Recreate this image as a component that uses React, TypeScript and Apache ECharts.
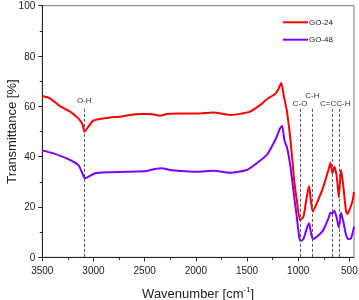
import React, { useEffect, useRef } from "react";
import * as echarts from "echarts";

const go24Wn = [3500, 3425, 3327, 3229, 3148, 3105, 3088, 3050, 3002, 2936, 2839, 2741, 2643, 2545, 2448, 2350, 2284, 2155, 1991, 1829, 1731, 1666, 1568, 1471, 1373, 1307, 1226, 1194, 1165, 1140, 1112, 1079, 1053, 1040, 1014, 982, 949, 916, 894, 877, 858, 818, 754, 705, 685, 666, 647, 623, 603, 591, 581, 559, 532, 519, 493, 467, 455];
const go24T = [64.1, 63.2, 60.1, 57.9, 55.2, 52.6, 49.9, 51.9, 54.3, 55.0, 55.6, 55.9, 56.6, 57.0, 57.0, 56.3, 57.0, 57.2, 57.2, 57.6, 57.0, 56.6, 57.0, 57.9, 60.5, 62.8, 64.9, 66.8, 69.3, 64.0, 58.5, 47.9, 36.7, 30.7, 22.8, 14.8, 16.1, 24.1, 28.3, 22.8, 18.1, 21.5, 28.1, 34.7, 37.6, 33.4, 36.0, 32.0, 23.8, 30.7, 34.7, 28.1, 18.1, 17.2, 19.5, 22.8, 26.0];

const go48Wn = [3500, 3392, 3262, 3148, 3115, 3085, 3050, 2985, 2871, 2675, 2480, 2399, 2333, 2252, 2155, 1991, 1829, 1666, 1503, 1405, 1307, 1258, 1210, 1177, 1157, 1135, 1112, 1086, 1063, 1040, 1014, 989, 975, 949, 916, 894, 877, 858, 818, 754, 705, 685, 666, 647, 623, 603, 581, 559, 532, 510, 484, 461, 455];
const go48T = [42.5, 41.3, 39.3, 36.7, 34.0, 31.4, 32.0, 33.4, 33.8, 34.0, 34.3, 35.1, 35.4, 34.7, 34.3, 34.0, 34.4, 33.6, 34.7, 37.4, 40.7, 44.0, 47.9, 51.3, 52.2, 46.6, 44.0, 38.7, 32.0, 24.1, 16.1, 7.6, 6.5, 7.2, 11.5, 13.5, 10.2, 7.3, 8.2, 10.9, 15.5, 17.7, 17.5, 18.5, 15.5, 11.8, 17.7, 14.1, 8.9, 7.3, 7.6, 10.9, 12.2];

const xMajorTicks = [500, 1000, 1500, 2000, 2500, 3000, 3500];
const xMinorTicks = [750, 1250, 1750, 2250, 2750, 3250];

const peakNames = ["O-H", "C-O", "C-H", "C=CC-H"];
const peakLabelX = [3090, 982, 861, 638];
const peakLabelY = [62.5, 61.2, 64.3, 61.2];
const peakLineX = [3090, 982, 861, 666, 603];
const peakLineTop = 59;

const FONT = 'Arial, "Liberation Sans", sans-serif';
const TXT = "#222";

export default function App() {
  const ref = useRef<HTMLDivElement>(null);
  useEffect(() => {
    if (!ref.current) return;
    const chart = echarts.init(ref.current, null, { renderer: "svg" });
    const pairs = (xs: number[], ys: number[]) => xs.map((x, i) => [x, ys[i]]);
    const plain = (v: number) => String(v);
    chart.setOption({
      animation: false,
      textStyle: { fontFamily: FONT },
      grid: {
        left: 42.3,
        right: 5,
        top: 5.7,
        bottom: 42.7,
        show: true,
        borderColor: "#777",
        borderWidth: 1,
        containLabel: false,
        outerBoundsMode: "none",
      },
      legend: {
        data: ["GO-24", "GO-48"],
        orient: "vertical",
        right: 26,
        top: 18.3,
        padding: 0,
        icon: "rect",
        itemWidth: 25,
        itemHeight: 2,
        itemGap: 9.4,
        textStyle: { fontSize: 8, color: TXT, fontFamily: FONT, padding: [0, 0, 0, -4] },
      },
      xAxis: [
        {
          type: "value",
          inverse: true,
          min: 455,
          max: 3500,
          splitLine: { show: false },
          axisLine: { show: true, onZero: false, lineStyle: { color: "#222", width: 1 } },
          axisTick: { show: true, inside: false, length: 4, customValues: xMajorTicks, lineStyle: { color: "#222" } },
          axisLabel: { customValues: xMajorTicks, fontSize: 10, color: TXT, margin: 8, fontFamily: FONT, formatter: plain },
          name: "Wavenumber [cm{sup|-1}]",
          nameLocation: "middle",
          nameGap: 28,
          nameMoveOverlap: false,
          nameTextStyle: {
            fontSize: 13,
            color: TXT,
            fontFamily: FONT,
            rich: { sup: { fontSize: 8, padding: [0, 0, 9, 0], color: TXT, fontFamily: FONT } },
          },
        },
        {
          type: "value",
          inverse: true,
          min: 455,
          max: 3500,
          splitLine: { show: false },
          axisLine: { show: false, onZero: false },
          axisTick: { show: true, inside: false, length: 2.5, customValues: xMinorTicks, lineStyle: { color: "#222" } },
          axisLabel: { show: false },
          position: "bottom",
        },
      ],
      yAxis: {
        type: "value",
        min: 0,
        max: 100,
        interval: 20,
        splitLine: { show: false },
        axisLine: { show: true, onZero: false, lineStyle: { color: "#222", width: 1 } },
        axisTick: { show: true, inside: false, length: 4, lineStyle: { color: "#222" } },
        minorTick: { show: true, splitNumber: 2, length: 2.5, lineStyle: { color: "#222" } },
        axisLabel: { fontSize: 10, color: TXT, margin: 7, fontFamily: FONT, formatter: plain },
        name: "Transmittance [%]",
        nameLocation: "middle",
        nameGap: 24,
        nameMoveOverlap: false,
        nameTextStyle: { fontSize: 13, color: TXT, fontFamily: FONT },
      },
      series: [
        {
          name: "GO-24",
          type: "line",
          data: pairs(go24Wn, go24T),
          symbol: "none",
          smooth: 0.2,
          lineStyle: { color: "#ff0000", width: 2 },
          itemStyle: { color: "#ff0000" },
          z: 3,
          markLine: {
            silent: true,
            symbol: ["none", "none"],
            label: { show: false },
            lineStyle: { color: "#555", type: [3, 2], width: 1 },
            data: peakLineX.map((x) => [{ coord: [x, peakLineTop] }, { coord: [x, 0] }]),
          },
          markPoint: {
            silent: true,
            symbol: "circle",
            symbolSize: 1,
            itemStyle: { color: "rgba(0,0,0,0)" },
            label: { show: true, position: "inside", formatter: "{b}", fontSize: 8, color: "#333", fontFamily: FONT },
            data: peakNames.map((n, i) => ({ name: n, coord: [peakLabelX[i], peakLabelY[i]] })),
          },
        },
        {
          name: "GO-48",
          type: "line",
          data: pairs(go48Wn, go48T),
          symbol: "none",
          smooth: 0.2,
          lineStyle: { color: "#8000ff", width: 2 },
          itemStyle: { color: "#8000ff" },
          z: 3,
        },
      ],
    });
    return () => chart.dispose();
  }, []);
  return <div ref={ref} style={{ position: "fixed", left: 0, top: 0, width: 359, height: 300 }} />;
}
